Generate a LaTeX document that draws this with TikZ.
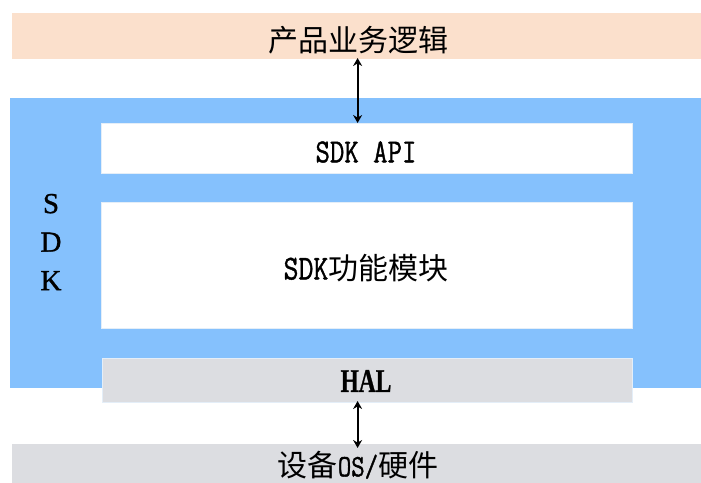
\documentclass[tikz,border=0pt]{standalone}
\usepackage{fontspec}
\usepackage{graphicx}
\newfontfamily\cjk{Noto Sans CJK SC}
\newfontfamily\monob[FakeBold=1.2]{Latin Modern Mono}
\newfontfamily\serifb[FakeBold=1.0]{Liberation Serif}
\usetikzlibrary{arrows.meta}
\definecolor{peach}{HTML}{FBE0CC}
\definecolor{sdkblue}{HTML}{85C1FD}
\definecolor{halgray}{HTML}{DCDDE1}
\definecolor{edgeline}{HTML}{E4EEF8}
\newcommand{\mono}[2]{{\scalebox{1}[1.2]{\fontsize{#1}{#1}\selectfont\monob #2}}}
\newcommand{\han}[1]{{\fontsize{30}{30}\selectfont\cjk #1}}
\begin{document}
\begin{tikzpicture}[x=1pt,y=-1pt,
  layer/.style={anchor=north west, inner sep=0pt, outer sep=0pt, text=black},
  inbox/.style={layer, fill=white, draw=edgeline, line width=0.8pt},
  link/.style={line width=2pt, {Stealth[length=8pt,width=9pt]}-{Stealth[length=8pt,width=9pt]}}]
\useasboundingbox (0,0) rectangle (701,482);
% layers
\node[layer, fill=peach, minimum width=689pt, minimum height=46pt] (biz) at (12,13) {};
\node at (358,40) (biztext) {\han{产品业务逻辑}};
\node[layer, fill=sdkblue, minimum width=691pt, minimum height=290pt] (sdk) at (10,98) {};
\node[inbox, minimum width=531pt, minimum height=50pt] (api) at (101,123) {};
\node at (366,152) (apitext) {\mono{28}{SDK API}};
\node[inbox, minimum width=531pt, minimum height=126pt] (func) at (101,202) {};
\node at (366,268) (functext) {\mono{29}{SDK}\han{功能模块}};
\node[layer, fill=halgray, draw=edgeline, line width=0.8pt, minimum width=530pt, minimum height=44pt] (hal) at (102,358) {};
\node at (366,381) (haltext) {\scalebox{0.78}[1.1]{\fontsize{30}{30}\selectfont\serifb\bfseries HAL}};
\node[layer, fill=halgray, minimum width=689pt, minimum height=40pt] (os) at (12,444) {};
\node at (358,465) (ostext) {\han{设备}\mono{26}{OS/}\han{硬件}};
% SDK vertical label
\node[align=center, font=\fontsize{29}{38.5}\selectfont\serifb, inner sep=0pt] (sdklabel) at (51,242) {S\\D\\K};
% arrows
\coordinate (ax) at (357.6,0);
\draw[link] ([yshift=1pt]biz.south -| ax) -- (api.north -| ax);
\draw[link] ([yshift=1pt]hal.south -| ax) -- ([yshift=-4pt]os.north -| ax);
\end{tikzpicture}
\end{document}
